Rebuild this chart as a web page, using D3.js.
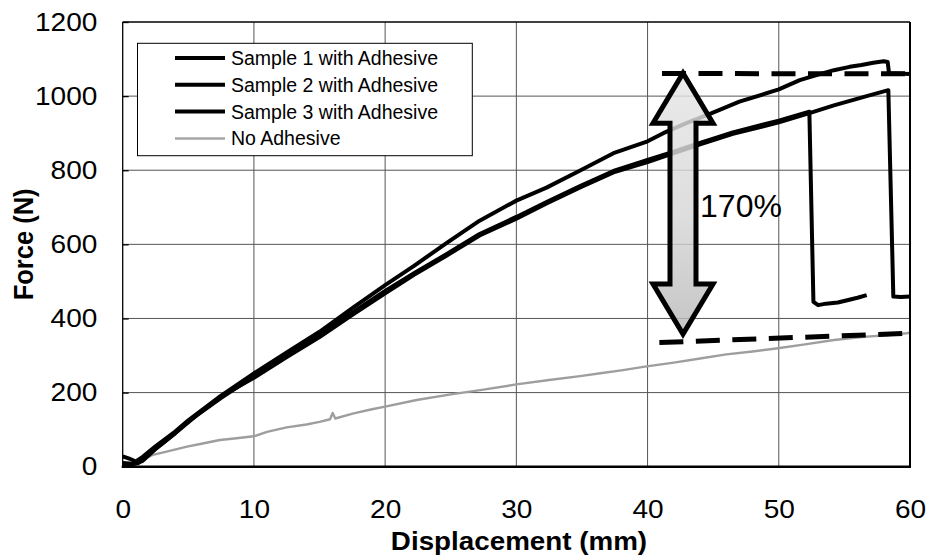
<!DOCTYPE html>
<html><head><meta charset="utf-8">
<script src="https://cdn.jsdelivr.net/npm/d3@7"></script>
<style>
html,body{margin:0;padding:0;background:#fff;}
svg{display:block;font-family:"Liberation Sans",Arial,sans-serif;}
</style></head>
<body><svg id="c" width="928" height="560"></svg>
<script>
// ---------- data ----------
const xTicks = [0, 10, 20, 30, 40, 50, 60];
const yTicks = [0, 200, 400, 600, 800, 1000, 1200];
const seriesNames = ["Sample 1 with Adhesive", "Sample 2 with Adhesive", "Sample 3 with Adhesive", "No Adhesive"];

const s1x = [0, 0.5, 1.0, 1.5, 2.5, 4, 5, 7.5, 10, 12.5, 15, 17.5, 20, 22.2, 24.7, 27.2, 30, 32.3, 34.9, 37.4, 40, 41.2, 43, 44.8, 47, 50, 51.6, 53, 54.2, 55.4, 56.3, 57.2, 58.0, 58.3, 58.4, 59, 60];
const s1y = [28, 22, 14, 26, 55, 95, 125, 192, 252, 308, 364, 428, 490, 542, 604, 664, 718, 753, 800, 846, 878, 900, 928, 953, 985, 1018, 1043, 1058, 1070, 1079, 1084, 1090, 1094, 1092, 1062, 1061, 1060];

const s2x = [0, 0.6, 1.2, 2, 3, 5, 7.5, 10, 12.5, 15, 17.5, 20, 22.2, 24.7, 27.2, 30, 32.3, 34.9, 37.4, 40, 42, 44, 46.5, 50, 52.33, 52.64, 53.0, 53.6, 54.5, 55.3, 56.0, 56.7];
const s2y = [5, 6, 10, 35, 62, 122, 186, 244, 300, 356, 416, 474, 522, 574, 628, 674, 714, 758, 798, 828, 850, 874, 902, 934, 958, 445, 436, 440, 443, 450, 456, 463];

const s3x = [0, 0.8, 1.5, 2.5, 4, 6, 8, 10, 12.5, 15, 17.5, 20, 22.2, 24.7, 27.2, 30, 32.3, 34.9, 37.4, 40, 42, 44, 46.5, 50, 52.4, 54.2, 56.7, 58.35, 58.73, 59.3, 60];
const s3y = [10, 8, 15, 48, 90, 150, 200, 240, 296, 350, 410, 468, 518, 570, 624, 669, 710, 754, 794, 822, 846, 870, 898, 929, 955, 975, 1000, 1016, 459, 458, 459];

const s0x = [0, 1, 2.3, 3.5, 4.9, 6, 7.4, 8.5, 10, 11, 12.5, 14, 15, 15.8, 16, 16.2, 17.6, 19, 20, 22.4, 25, 27.5, 30, 32.5, 35, 36.4, 38, 39.8, 42, 44, 46, 48, 49.8, 52, 54.2, 56.7, 58, 59.75, 60];
const s0y = [5, 12, 32, 42, 54, 62, 72, 76, 82, 94, 106, 114, 121, 128, 145, 130, 144, 155, 162, 180, 195, 208, 222, 234, 245, 252, 260, 270, 281, 292, 303, 311, 319, 330, 342, 351, 354, 360, 362];

// annotation
const dashUpper = [[41.1, 1061], [60, 1060]];
const dashLower = [[40.9, 335], [60, 360]];
const arrowX = 42.7, arrowTop = 1062, arrowBottom = 358;
const annoText = "170%", annoPos = [44.0, 675];

// ---------- layout ----------
const svg = d3.select("#c");
const L = 122.7, R = 910, T = 22, B = 466.7;
const x = d3.scaleLinear().domain([0, 60]).range([L, R]);
const y = d3.scaleLinear().domain([0, 1200]).range([B, T]);

svg.append("rect").attr("width", 928).attr("height", 560).attr("fill", "#fff");

// grid
const g = svg.append("g");
g.selectAll(".vg").data(xTicks.slice(1, -1)).enter().append("line")
  .attr("x1", d => x(d)).attr("x2", d => x(d)).attr("y1", T).attr("y2", B)
  .attr("stroke", "#555").attr("stroke-width", 1);
g.selectAll(".hg").data(yTicks.slice(1, -1)).enter().append("line")
  .attr("x1", L).attr("x2", R).attr("y1", d => y(d)).attr("y2", d => y(d))
  .attr("stroke", "#555").attr("stroke-width", 1);

// axes (labels + inward ticks)
const ay = svg.append("g").attr("transform", `translate(${L},0)`)
  .call(d3.axisLeft(y).tickValues(yTicks).tickFormat(d3.format("d")).tickSize(-6).tickPadding(23));
ay.select(".domain").remove();
ay.selectAll(".tick line").attr("stroke", "#000").attr("stroke-width", 1.3);
ay.selectAll(".tick text").attr("font-size", 25.5).attr("fill", "#000")
  .attr("font-family", "Liberation Sans, Arial, sans-serif")
  .attr("transform", "scale(1.1,1)");

const ax = svg.append("g").attr("transform", `translate(0,${B})`)
  .call(d3.axisBottom(x).tickValues(xTicks).tickFormat(d3.format("d")).tickSize(0).tickPadding(33));
ax.select(".domain").remove();
ax.selectAll(".tick text").attr("font-size", 25.5).attr("fill", "#000")
  .attr("font-family", "Liberation Sans, Arial, sans-serif")
  .attr("transform", "scale(1.1,1)");

// titles
svg.append("text").attr("transform", "translate(519,550) scale(1.09,1)")
  .attr("text-anchor", "middle").attr("font-weight", "bold").attr("font-size", 25.5)
  .text("Displacement (mm)");
svg.append("text").attr("transform", `translate(33,${(T + B) / 2}) scale(1.09,1) rotate(-90)`)
  .attr("text-anchor", "middle").attr("font-weight", "bold").attr("font-size", 25.5)
  .text("Force (N)");

// series
const line = d3.line().x(d => x(d[0])).y(d => y(d[1]));
const zip = (a, b) => a.map((v, i) => [v, b[i]]);
const plot = svg.append("g");
plot.append("path").datum(zip(s0x, s0y)).attr("d", line)
  .attr("fill", "none").attr("stroke", "#9e9e9e").attr("stroke-width", 2.4).attr("stroke-linejoin", "round");
[[s3x, s3y], [s2x, s2y], [s1x, s1y]].forEach(([a, b]) => {
  plot.append("path").datum(zip(a, b)).attr("d", line)
    .attr("fill", "none").attr("stroke", "#000").attr("stroke-width", 4)
    .attr("stroke-linejoin", "round");
});

// dashed reference lines
[dashUpper, dashLower].forEach(d => {
  svg.append("path").datum(d).attr("d", line).attr("fill", "none")
    .attr("stroke", "#000").attr("stroke-width", 5).attr("stroke-dasharray", "24,12.5");
});

// double arrow
const defs = svg.append("defs");
const grad = defs.append("linearGradient").attr("id", "ag").attr("x1", 0).attr("x2", 0).attr("y1", 0).attr("y2", 1);
grad.append("stop").attr("offset", "0%").attr("stop-color", "#e6e6e6");
grad.append("stop").attr("offset", "55%").attr("stop-color", "#d6d6d6");
grad.append("stop").attr("offset", "100%").attr("stop-color", "#b8b8b8");
const cx = x(arrowX), ty = y(arrowTop), by = y(arrowBottom);
const hw = 30, sw = 13, hl = 50;
const pts = [[cx, ty], [cx + hw, ty + hl], [cx + sw, ty + hl], [cx + sw, by - hl], [cx + hw, by - hl],
  [cx, by], [cx - hw, by - hl], [cx - sw, by - hl], [cx - sw, ty + hl], [cx - hw, ty + hl]];
svg.append("path").attr("d", "M" + pts.map(p => p.join(",")).join("L") + "Z")
  .attr("fill", "url(#ag)").attr("fill-opacity", 0.82)
  .attr("stroke", "#000").attr("stroke-width", 5).attr("stroke-linejoin", "miter").attr("stroke-miterlimit", 10);

svg.append("text").attr("x", x(annoPos[0])).attr("y", y(annoPos[1]))
  .attr("font-size", 32).attr("fill", "#000").text(annoText);

// legend
const lg = svg.append("g");
lg.append("rect").attr("x", 137.5).attr("y", 43.3).attr("width", 334.8).attr("height", 112.4)
  .attr("fill", "#fff").attr("stroke", "#000").attr("stroke-width", 1);
const rows = [58, 84.8, 111.6, 138.4];
seriesNames.forEach((n, i) => {
  lg.append("line").attr("x1", 175).attr("x2", 225).attr("y1", rows[i]).attr("y2", rows[i])
    .attr("stroke", i < 3 ? "#000" : "#a6a6a6").attr("stroke-width", i < 3 ? 4 : 2.5);
  lg.append("text").attr("x", 231).attr("y", rows[i] + 7).attr("font-size", 19.5).attr("fill", "#000").text(n);
});

// frame
svg.append("line").attr("x1", L).attr("x2", R).attr("y1", T).attr("y2", T).attr("stroke", "#000").attr("stroke-width", 1.3);
svg.append("line").attr("x1", L).attr("x2", L).attr("y1", T).attr("y2", B).attr("stroke", "#000").attr("stroke-width", 1.3);
svg.append("line").attr("x1", R).attr("x2", R).attr("y1", T).attr("y2", B).attr("stroke", "#000").attr("stroke-width", 2);
svg.append("line").attr("x1", L - 1).attr("x2", R + 1).attr("y1", B).attr("y2", B).attr("stroke", "#000").attr("stroke-width", 2.6);
</script></body></html>
